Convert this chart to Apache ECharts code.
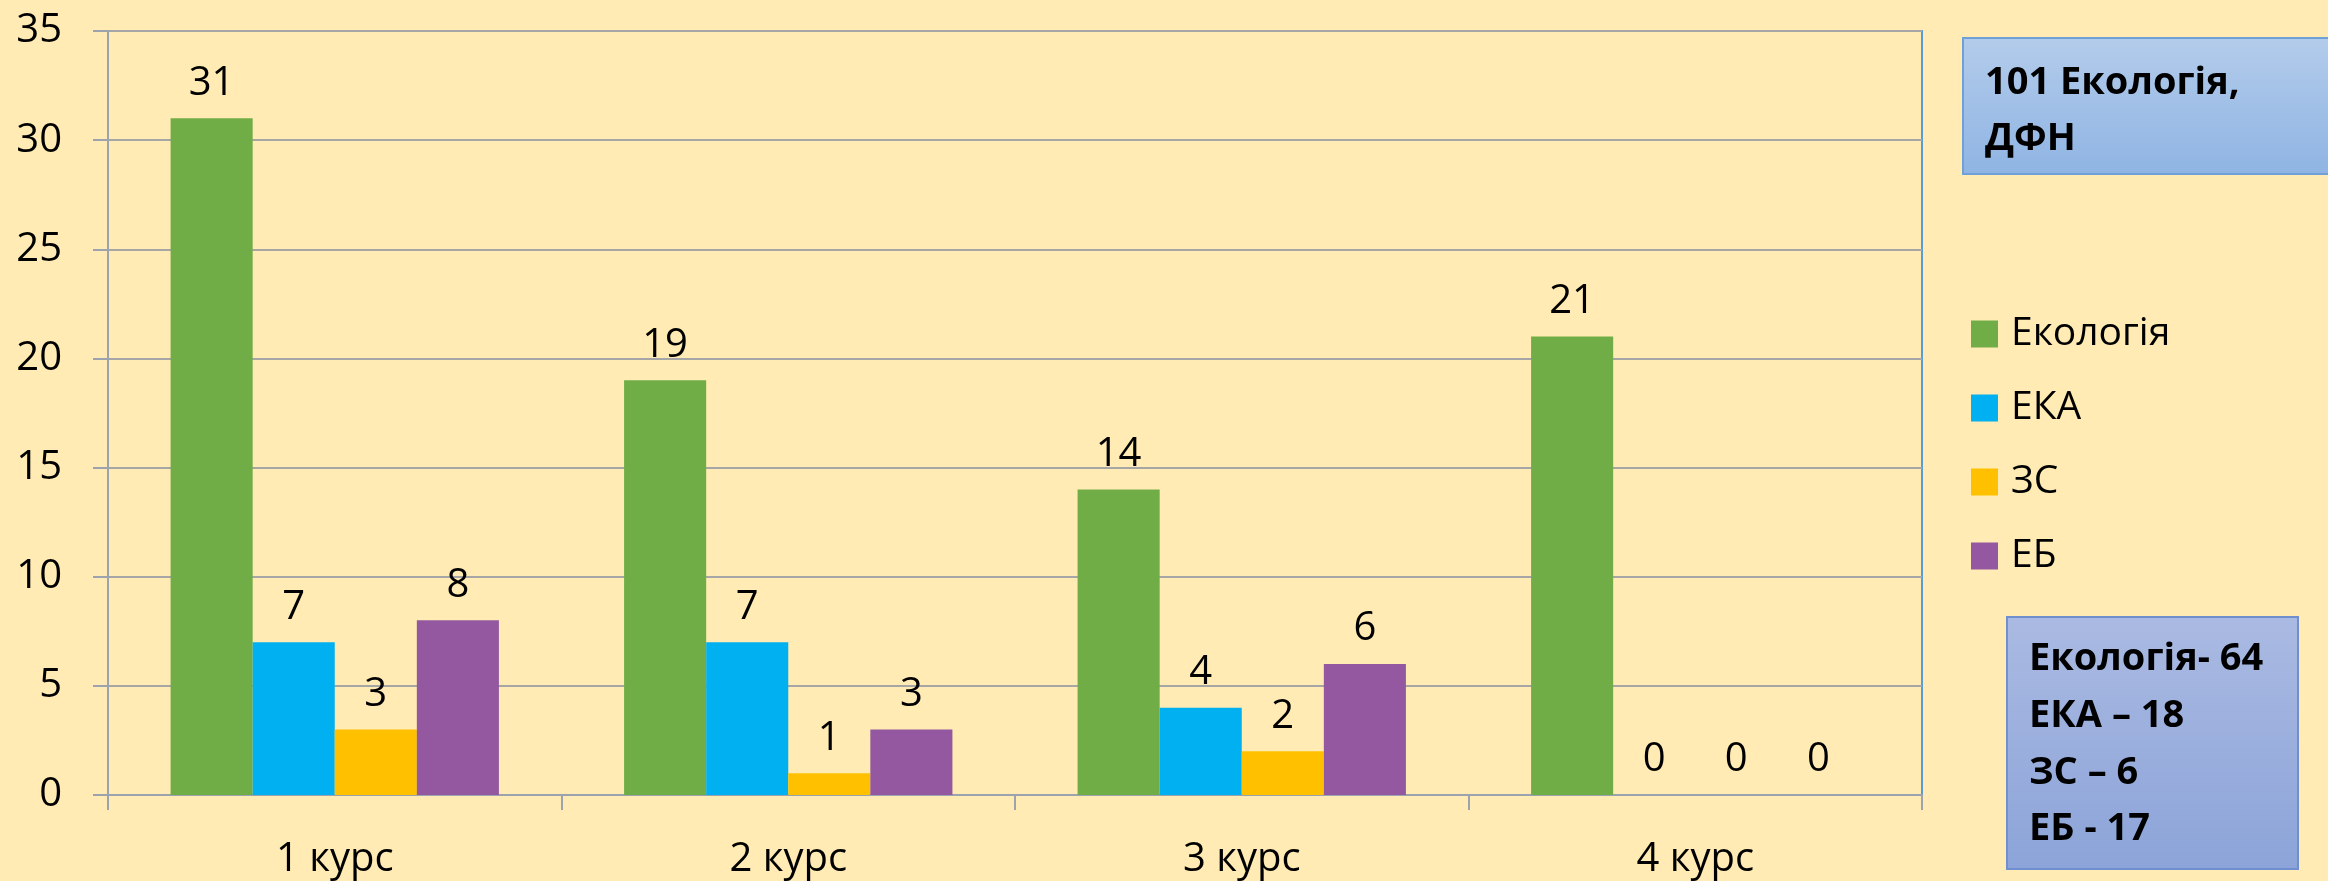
<!DOCTYPE html>
<html>
<head>
<meta charset="utf-8">
<script src="https://cdn.jsdelivr.net/npm/echarts@6/dist/echarts.min.js"></script>
<style>
html,body{margin:0;padding:0;background:#FFEBB3;}
#chart{width:2328px;height:881px;}
</style>
</head>
<body>
<div id="chart"></div>
<script>
const categories = ['1 курс', '2 курс', '3 курс', '4 курс'];
const seriesNames = ['Екологія', 'ЕКА', 'ЗС', 'ЕБ'];
const ecology = [31, 19, 14, 21];
const eka = [7, 7, 4, 0];
const zs = [3, 1, 2, 0];
const eb = [8, 3, 6, 0];
const yTicks = { min: 0, max: 35, interval: 5 };
const titleLines = ['101 Екологія,', 'ДФН'];
const totalLines = ['Екологія- 64', 'ЕКА – 18', 'ЗС – 6', 'ЕБ - 17'];

const colors = ['#70AD47', '#00B0F0', '#FFC000', '#93589F'];
const FONT = '"Open Sans", "Noto Sans", sans-serif';

const allSeries = [ecology, eka, zs, eb].map((arr, i) => ({
  name: seriesNames[i],
  type: 'bar',
  data: arr,
  barGap: '0%',
  barCategoryGap: '27.6%',
  itemStyle: { color: colors[i] },
  label: { show: true, position: 'top', distance: 15, color: '#000', fontSize: 40, fontFamily: FONT },
  emphasis: { disabled: true }
}));

const chart = echarts.init(document.getElementById('chart'));
const boxText = (t, x, y) => ({
  type: 'text', x: x, y: y,
  style: { text: t, fill: '#000', font: 'bold 38px ' + FONT, verticalAlign: 'middle' }
});
chart.setOption({
  backgroundColor: '#FFEBB3',
  animation: false,
  color: colors,
  grid: { left: 108, right: 406, top: 31, bottom: 86, show: true, borderColor: '#5B9BD5', borderWidth: 2, backgroundColor: 'transparent' },
  legend: {
    orient: 'vertical', left: 1971, top: 314, padding: 0,
    itemWidth: 27, itemHeight: 27, itemGap: 34, icon: 'rect',
    data: seriesNames,
    textStyle: { color: '#000', fontSize: 39, fontFamily: FONT, lineHeight: 40, padding: [0, 0, 0, 8] }
  },
  xAxis: {
    type: 'category', data: categories,
    axisLine: { lineStyle: { color: '#9BA3AE', width: 2 } },
    axisTick: { show: true, length: 15, lineStyle: { color: '#9BA3AE', width: 2 } },
    axisLabel: { color: '#000', fontSize: 40, fontFamily: FONT, margin: 45 }
  },
  yAxis: {
    type: 'value', min: yTicks.min, max: yTicks.max, interval: yTicks.interval,
    axisLine: { show: true, lineStyle: { color: '#9BA3AE', width: 2 } },
    axisTick: { show: true, length: 15, lineStyle: { color: '#9BA3AE', width: 2 } },
    axisLabel: { color: '#000', fontSize: 40, fontFamily: FONT, margin: 46 },
    splitLine: { lineStyle: { color: '#A6A6A6', width: 2 } }
  },
  series: allSeries,
  graphic: [
    {
      type: 'rect', shape: { x: 1963, y: 38, width: 400, height: 136 },
      style: { fill: new echarts.graphic.LinearGradient(0, 0, 0, 1, [{ offset: 0, color: '#B3CCEB' }, { offset: 1, color: '#8FB4E3' }]), stroke: '#6FA0D8', lineWidth: 2 }
    },
    boxText(titleLines[0], 1985, 83),
    boxText(titleLines[1], 1985, 139),
    {
      type: 'rect', shape: { x: 2007, y: 617, width: 291, height: 252 },
      style: { fill: new echarts.graphic.LinearGradient(0, 0, 0, 1, [{ offset: 0, color: '#AABAE2' }, { offset: 1, color: '#8CA4D9' }]), stroke: '#6F8FCF', lineWidth: 2 }
    },
    boxText(totalLines[0], 2029, 659),
    boxText(totalLines[1], 2029, 716),
    boxText(totalLines[2], 2029, 773),
    boxText(totalLines[3], 2029, 829)
  ]
});
</script>
</body>
</html>
